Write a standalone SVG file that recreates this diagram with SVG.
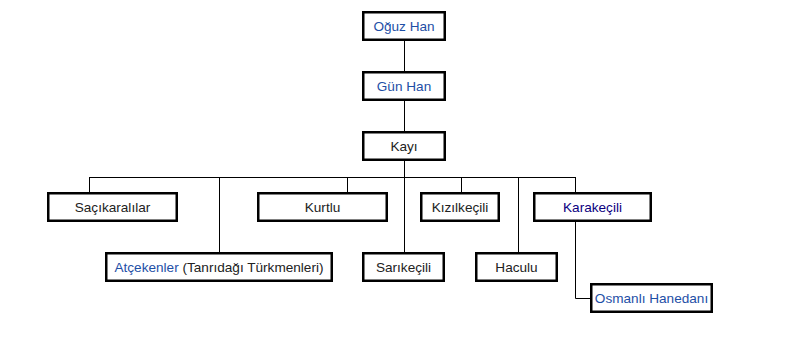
<svg xmlns="http://www.w3.org/2000/svg" width="794" height="337" viewBox="0 0 794 337">
<style>
.box{fill:#fff;stroke:#000;stroke-width:2.5}
.t{font-family:"Liberation Sans",Arial,sans-serif;font-size:13.6px;fill:#222;text-anchor:middle}
.l{fill:#1e4fa6}
.v{fill:#0b0080}
.c{stroke:#000;stroke-width:1;fill:none}
</style>
<rect width="794" height="337" fill="#fff"/>
<g id="connectors">
<path class="c" d="M404.5 41V71M404.5 101V131M404.5 161V252M89.5 177.5H575.5M89.5 177V192M219.5 177V252M347.5 177V192M461.5 177V192M518.5 177V252M575.5 177V192M575.5 222V298.5H590"/>
</g>
<g id="oguz"><rect class="box" x="363.25" y="12.25" width="81.5" height="27.5"/><text class="t l" x="404" y="31">Oğuz Han</text></g>
<g id="gun"><rect class="box" x="363.25" y="72.25" width="81.5" height="27.5"/><text class="t l" x="404" y="91">Gün Han</text></g>
<g id="kayi"><rect class="box" x="363.25" y="132.25" width="81.5" height="27.5"/><text class="t" x="404" y="151">Kayı</text></g>
<g id="sacikaralilar"><rect class="box" x="48.25" y="193.25" width="128.5" height="27.5"/><text class="t" x="112.5" y="212">Saçıkaralılar</text></g>
<g id="kurtlu"><rect class="box" x="258.25" y="193.25" width="128.5" height="27.5"/><text class="t" x="322.5" y="212">Kurtlu</text></g>
<g id="kizilkecili"><rect class="box" x="421.25" y="193.25" width="77.5" height="27.5"/><text class="t" x="460" y="212">Kızılkeçili</text></g>
<g id="karakecili"><rect class="box" x="534.25" y="193.25" width="116.5" height="27.5"/><text class="t v" x="592.5" y="212">Karakeçili</text></g>
<g id="atcekenler"><rect class="box" x="106.25" y="253.25" width="225.5" height="27.5"/><text class="t" x="219" y="272"><tspan class="l">Atçekenler</tspan> (Tanrıdağı Türkmenleri)</text></g>
<g id="sarikecili"><rect class="box" x="363.25" y="253.25" width="80.5" height="27.5"/><text class="t" x="403.5" y="272">Sarıkeçili</text></g>
<g id="haculu"><rect class="box" x="476.25" y="253.25" width="80.5" height="27.5"/><text class="t" x="516.5" y="272">Haculu</text></g>
<g id="osmanli"><rect class="box" x="591.25" y="284.25" width="120.5" height="27.5"/><text class="t l" x="651.5" y="303">Osmanlı Hanedanı</text></g>
</svg>
